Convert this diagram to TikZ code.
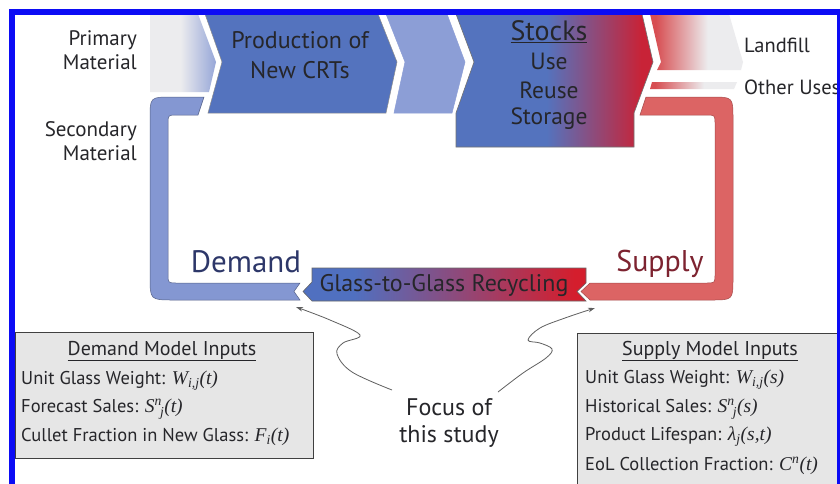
\documentclass[tikz,border=0pt]{standalone}
\usepackage{fontspec}
\setmainfont{PT Sans}
\newfontfamily\tnr{Liberation Serif}
\newcommand\vv[1]{{\tnr\itshape\fontsize{19.5}{20}\selectfont #1}}
\usetikzlibrary{arrows.meta}
\definecolor{dblue}{RGB}{84,115,190}
\definecolor{lblue}{RGB}{140,158,214}
\definecolor{pblue}{RGB}{132,151,210}
\definecolor{sred}{RGB}{200,35,55}
\definecolor{rblue}{RGB}{80,112,192}
\definecolor{rred}{RGB}{212,30,45}
\definecolor{pred}{RGB}{220,100,100}
\definecolor{lred}{RGB}{215,78,82}
\definecolor{lgray}{RGB}{236,236,238}
\definecolor{gblue}{RGB}{150,166,216}
\definecolor{txt}{RGB}{38,38,42}
\definecolor{dtxt}{RGB}{45,55,105}
\definecolor{stxt}{RGB}{125,35,48}
\definecolor{frameblue}{RGB}{12,12,245}
\definecolor{boxgray}{RGB}{230,230,230}
\definecolor{arrowgray}{RGB}{95,95,95}
\pgfdeclarehorizontalshading{stockshade}{100bp}{color(0bp)=(dblue); color(48bp)=(dblue); color(72bp)=(sred); color(100bp)=(sred)}
\pgfdeclarehorizontalshading{recshade}{100bp}{color(0bp)=(rblue); color(34bp)=(rblue); color(73bp)=(rred); color(100bp)=(rred)}
\pgfdeclarehorizontalshading{landshade}{100bp}{color(0bp)=(lred); color(28bp)=(lred); color(56bp)=(lgray); color(100bp)=(lgray)}
\pgfdeclarehorizontalshading{primshade}{100bp}{color(0bp)=(lgray); color(48bp)=(lgray); color(75bp)=(gblue); color(100bp)=(gblue)}
\tikzset{
  lbl/.style={text=txt, inner sep=0pt, align=center},
  side/.style={lbl, font=\fontsize{21}{24.5}\selectfont, align=right, anchor=east},
  chev/.style={draw=black!45, line width=0.5},
  boxstyle/.style={draw=black!75, fill=boxgray, line width=1.3, inner sep=0pt},
  boxline/.style={lbl, anchor=west, font=\fontsize{18.5}{20}\selectfont},
  boxtitle/.style={lbl, font=\fontsize{20}{22}\selectfont},
  focusarrow/.style={draw=arrowgray, line width=0.8, -{Stealth[length=7pt,width=4.5pt]}}
}
\begin{document}
\begin{tikzpicture}[x=1pt,y=-1pt]
\useasboundingbox (0,0) rectangle (840,483);
\clip (0,0) rectangle (840,483);
\fill[white] (0,0) rectangle (840,483);
% primary material inflow
\path[shading=primshade] (150,14) -- (198,14) -- (216,62) -- (209,92) -- (150,92) -- cycle;
% chevrons
\filldraw[chev, fill=dblue] (205,14) -- (378,14) -- (397,62) -- (386,113) -- (208,113) -- (222,62) -- cycle;
\filldraw[chev, fill=lblue, draw=lblue] (386,14) -- (447,14) -- (465,62) -- (452,113) -- (394,113) -- (405,62) -- cycle;
\path[shading=stockshade, draw=black!55, line width=0.6] (456,14) -- (642,14) -- (653,62) -- (634,113) -- (634,147) -- (456,147) -- (456,113) -- (474,62) -- cycle;
% outflows
\path[shading=landshade] (650,14) -- (729,14) -- (743,62) -- (741,70) -- (657,70) -- (661,62) -- cycle;
\path[shading=landshade] (652,82) -- (737,82) -- (734,89) -- (650,89) -- cycle;
% demand pipe
\filldraw[fill=pblue, draw=black!35!pblue, line width=0.5]
  (204,97) -- (172,97) .. controls (150,97) .. (150,119) -- (150,276) .. controls (150,300) .. (174,300)
  -- (300,300) -- (294,291.5) -- (300,283) -- (177,283) .. controls (168,283) .. (168,274)
  -- (168,124) .. controls (168,115) .. (177,115) -- (198,115) -- cycle;
% supply pipe
\filldraw[fill=pred, draw=black!25!pred, line width=0.5]
  (646,97) -- (711,97) .. controls (733,97) .. (733,119) -- (733,278) .. controls (733,300) .. (711,300)
  -- (590,300) -- (581,291.5) -- (590,283) -- (706,283) .. controls (715,283) .. (715,274)
  -- (715,124) .. controls (715,115) .. (706,115) -- (640,115) -- cycle;
% recycling arrow
\path[shading=recshade, draw=black!60, line width=0.6] (312,268) -- (586,268) -- (586,283) -- (577,291.5) -- (586,301) -- (312,301) -- (303,291.5) -- (312,282) -- cycle;
% texts
\node[side] (prim) at (137,50) {Primary\\Material};
\node[side] (sec) at (137,141) {Secondary\\Material};
\node[lbl, font=\fontsize{24}{30}\selectfont] (prod) at (300,55) {Production of\\New CRTs};
\node[lbl, font=\fontsize{28}{30}\selectfont] (stocks) at (549,32) {\underline{Stocks}};
\node[lbl, font=\fontsize{23.5}{26}\selectfont] (use) at (549,61) {Use};
\node[lbl, font=\fontsize{23.5}{26}\selectfont] (reuse) at (549,90) {Reuse};
\node[lbl, font=\fontsize{23.5}{26}\selectfont] (storage) at (549,119) {Storage};
\node[lbl, anchor=west, font=\fontsize{20.5}{24}\selectfont] (landfill) at (744,45) {Landfill};
\node[lbl, anchor=west, font=\fontsize{20.5}{24}\selectfont] (other) at (744,87) {Other Uses};
\node[lbl, text=dtxt, font=\fontsize{31}{34}\selectfont] (demand) at (246,262) {Demand};
\node[lbl, text=stxt, font=\fontsize{30}{34}\selectfont] (supply) at (660,264) {Supply};
\node[lbl, font=\fontsize{24}{26}\selectfont] (recyc) at (444,285) {Glass-to-Glass Recycling};
\node[lbl, font=\fontsize{24}{27}\selectfont] (focus) at (449,423) {Focus of\\this study};
% input boxes
\node[boxstyle, anchor=north west, minimum width=298pt, minimum height=126pt] (dbox) at (15,332) {};
\node[boxtitle] (dtitle) at (162,351) {\underline{Demand Model Inputs}};
\node[boxline] (d1) at (21,381) {Unit Glass Weight: \vv{W\textsubscript{i,j}(t)}};
\node[boxline] (d2) at (21,409) {Forecast Sales: \vv{S\textsuperscript{n}\kern-0.1em\textsubscript{j}(t)}};
\node[boxline] (d3) at (21,437) {Cullet Fraction in New Glass: \vv{F\textsubscript{i}(t)}};
\node[boxstyle, anchor=north west, minimum width=280pt, minimum height=170pt] (sbox) at (577,333) {};
\node[boxtitle] (stitle) at (710,351) {\underline{Supply Model Inputs}};
\node[boxline] (s1) at (585,380) {Unit Glass Weight: \vv{W\textsubscript{i,j}(s)}};
\node[boxline] (s2) at (585,409) {Historical Sales: \vv{S\textsuperscript{n}\kern-0.1em\textsubscript{j}(s)}};
\node[boxline] (s3) at (585,437) {Product Lifespan: \vv{λ\textsubscript{j}(s,t)}};
\node[boxline] (s4) at (585,466) {EoL Collection Fraction: \vv{C\textsuperscript{n}(t)}};
% focus arrows
\coordinate (dtip) at (296,307);
\coordinate (stip) at (595,308);
\coordinate (fl) at (392,390);
\coordinate (fr) at (498,392);
\draw[focusarrow] plot[smooth, tension=0.6] coordinates {(fl) (352,372) (337,354) (343,343) (360,335) (330,320) (dtip)};
\draw[focusarrow] plot[smooth, tension=0.6] coordinates {(fr) (523,373) (546,358) (552,349) (540,343) (528,340) (540,328) (565,318) (stip)};
% frame
\draw[frameblue, line width=6] (12,12) rectangle (840,520);
\end{tikzpicture}
\end{document}
